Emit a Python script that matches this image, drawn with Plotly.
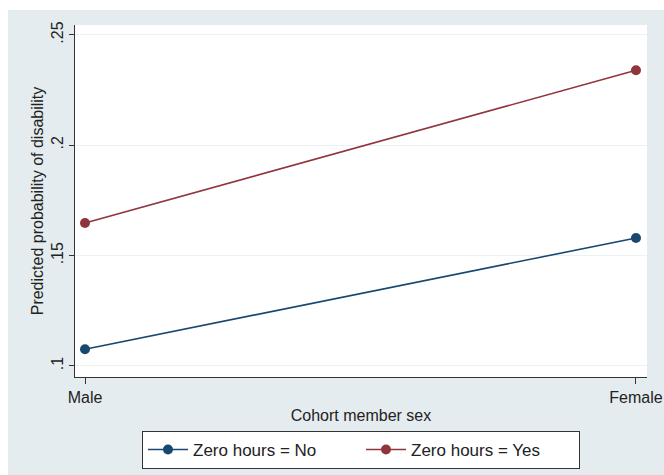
import plotly.graph_objects as go

# Predicted probabilities by sex and zero-hours contract status
sex_labels = ["Male", "Female"]
sex_pos = [0, 1]
prob_no = [0.1076, 0.1580]
prob_yes = [0.1648, 0.2340]
series_names = ["Zero hours = No", "Zero hours = Yes"]
y_ticks = [0.10, 0.15, 0.20, 0.25]
y_tick_text = [".1", ".15", ".2", ".25"]

BLUE = "#1a476f"
RED = "#90353b"
REGION = "#e5ecef"
GRID = "#eaf2f3"
FONT = "Liberation Sans, Arial, sans-serif"

fig = go.Figure()
for vals, name, col in [(prob_no, series_names[0], BLUE), (prob_yes, series_names[1], RED)]:
    fig.add_trace(go.Scatter(
        x=sex_pos, y=vals, mode="lines+markers", name=name,
        line=dict(color=col, width=1.6),
        marker=dict(color=col, size=10, symbol="circle"),
    ))

W, H = 664, 475
L, R, T, B = 75, 17, 25, 98
pw, ph = W - L - R, H - T - B

def px_to_paper_x(px):
    return (px - L) / pw

def px_to_paper_y(py):
    return (H - B - py) / ph

# Graph region background with a thin white strip at the top and left
fig.add_shape(type="rect", xref="paper", yref="paper", layer="below",
              x0=px_to_paper_x(8), x1=px_to_paper_x(W + 5),
              y0=px_to_paper_y(H + 5), y1=px_to_paper_y(10),
              fillcolor=REGION, line=dict(width=0))
fig.add_shape(type="rect", xref="paper", yref="paper", layer="below",
              x0=0, x1=1, y0=0, y1=1, fillcolor="white", line=dict(width=0))

fig.update_layout(
    width=W, height=H,
    margin=dict(l=L, r=R, t=T, b=B, autoexpand=False),
    paper_bgcolor="white",
    plot_bgcolor="rgba(0,0,0,0)",
    font=dict(family=FONT, size=16, color="#222222"),
    showlegend=True,
    legend=dict(
        orientation="h", x=0.5, xanchor="center",
        y=px_to_paper_y(431), yanchor="top",
        bgcolor="white", bordercolor="#333333", borderwidth=1,
        font=dict(size=17, family=FONT, color="#222222"),
        itemwidth=40, entrywidth=163, tracegroupgap=0,
    ),
)

fig.update_xaxes(
    range=[-0.01815, 1.020],
    tickvals=sex_pos, ticktext=sex_labels,
    showgrid=False, zeroline=False, automargin=False,
    showline=True, linecolor="#333333", linewidth=1.2,
    ticks="outside", ticklen=6, tickcolor="#333333", tickwidth=1,
    tickfont=dict(size=16),
    title=dict(text="Cohort member sex", font=dict(size=16), standoff=4),
)
fig.update_yaxes(
    range=[0.0950, 0.2545],
    tickvals=y_ticks, ticktext=y_tick_text, tickangle=-90,
    showgrid=True, gridcolor=GRID, gridwidth=1,
    zeroline=False, automargin=False,
    showline=True, linecolor="#333333", linewidth=1.2,
    ticks="outside", ticklen=5, tickcolor="#333333", tickwidth=1,
    tickfont=dict(size=16),
    title=dict(text="Predicted probability of disability", font=dict(size=16), standoff=0),
)

fig.write_html("out.html")
